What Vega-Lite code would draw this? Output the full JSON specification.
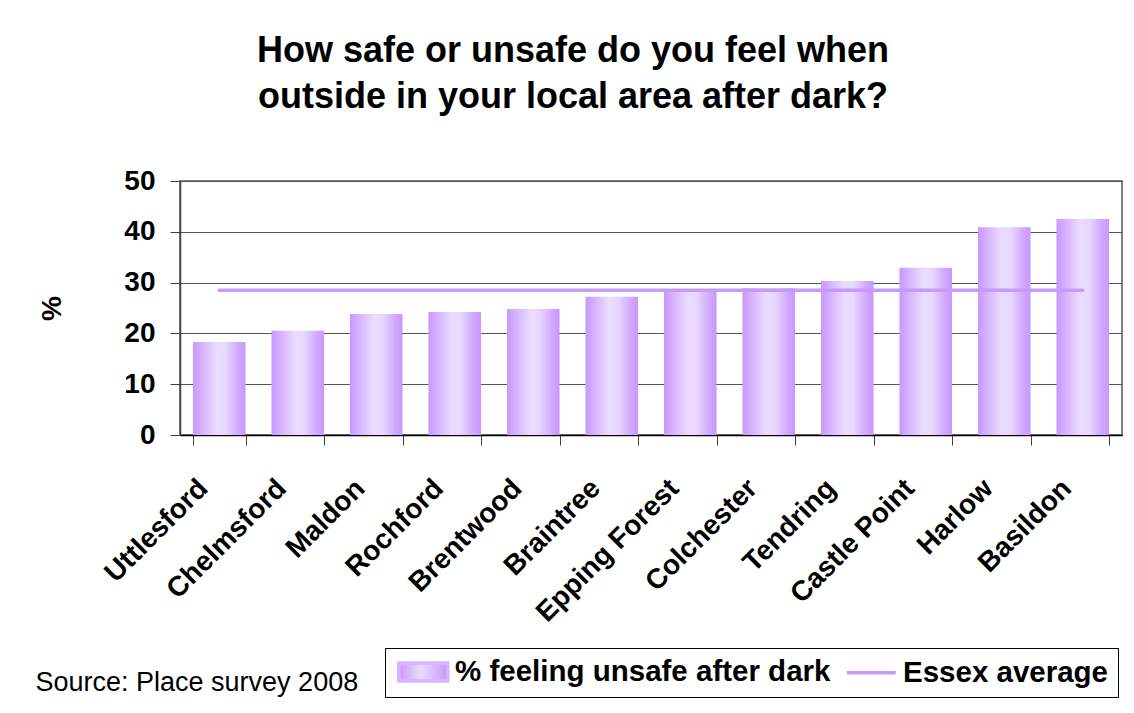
{
  "$schema": "https://vega.github.io/schema/vega-lite/v6.json",
  "autosize": {"type": "none"},
  "width": 942,
  "height": 254,
  "padding": {"left": 180, "top": 181, "right": 12, "bottom": 278},
  "background": "white",
  "config": {
    "font": "Liberation Sans",
    "view": {"stroke": "#808080", "strokeWidth": 2}
  },
  "title": {
    "text": ["How safe or unsafe do you feel when", "outside in your local area after dark?"],
    "fontSize": 36,
    "fontWeight": "bold",
    "font": "Liberation Sans",
    "color": "#000000",
    "anchor": "middle",
    "frame": "group",
    "dx": -78,
    "offset": 51,
    "lineHeight": 46
  },
  "data": {
    "values": [
      {"district": "Uttlesford", "unsafe": 18.3, "avg": 28.5},
      {"district": "Chelmsford", "unsafe": 20.5, "avg": 28.5},
      {"district": "Maldon", "unsafe": 23.8, "avg": 28.5},
      {"district": "Rochford", "unsafe": 24.2, "avg": 28.5},
      {"district": "Brentwood", "unsafe": 24.8, "avg": 28.5},
      {"district": "Braintree", "unsafe": 27.2, "avg": 28.5},
      {"district": "Epping Forest", "unsafe": 28.4, "avg": 28.5},
      {"district": "Colchester", "unsafe": 28.9, "avg": 28.5},
      {"district": "Tendring", "unsafe": 30.3, "avg": 28.5},
      {"district": "Castle Point", "unsafe": 32.9, "avg": 28.5},
      {"district": "Harlow", "unsafe": 40.9, "avg": 28.5},
      {"district": "Basildon", "unsafe": 42.5, "avg": 28.5}
    ]
  },
  "encoding": {
    "x": {
      "field": "district",
      "type": "nominal",
      "sort": null,
      "scale": {"paddingInner": 0.33, "paddingOuter": 0.165},
      "axis": {
        "title": "Source: Place survey 2008",
        "titleFont": "Liberation Sans",
        "titleFontSize": 27,
        "titleFontWeight": "normal",
        "titleColor": "#000000",
        "titleAnchor": "start",
        "titleAlign": "left",
        "titleBaseline": "middle",
        "titleX": -145,
        "titleY": 247,
        "labelAngle": -45,
        "labelAlign": "right",
        "labelBaseline": "top",
        "labelFontSize": 28,
        "labelFontWeight": "bold",
        "labelColor": "#000000",
        "labelPadding": 29,
        "labelOffset": -26,
        "labelLimit": 400,
        "tickBand": "extent",
        "tickSize": 10,
        "tickColor": "#404040",
        "domainColor": "#000000",
        "domainWidth": 1.5,
        "grid": false
      }
    }
  },
  "layer": [
    {
      "mark": {
        "type": "bar",
        "color": {
          "gradient": "linear",
          "x1": 0, "y1": 0, "x2": 1, "y2": 0,
          "stops": [
            {"offset": 0, "color": "#C897FF"},
            {"offset": 0.18, "color": "#D6B3FF"},
            {"offset": 0.45, "color": "#EBDCFF"},
            {"offset": 0.62, "color": "#E8D7FF"},
            {"offset": 0.85, "color": "#D2AAFF"},
            {"offset": 1, "color": "#C896FF"}
          ]
        }
      },
      "encoding": {
        "y": {
          "field": "unsafe",
          "type": "quantitative",
          "scale": {"domain": [0, 50], "nice": false},
          "axis": {
            "title": "%",
            "titleFontSize": 28,
            "titleFontWeight": "bold",
            "titleColor": "#000000",
            "titleAngle": -90,
            "titleX": -128,
            "titleY": 127,
            "titleAlign": "center",
            "titleBaseline": "middle",
            "values": [0, 10, 20, 30, 40, 50],
            "labelFontSize": 28,
            "labelFontWeight": "bold",
            "labelColor": "#000000",
            "labelPadding": 15,
            "tickSize": 10,
            "tickColor": "#404040",
            "domainColor": "#404040",
            "domainWidth": 1.5,
            "gridColor": "#555555",
            "gridWidth": 1.2
          }
        }
      }
    },
    {
      "mark": {"type": "line", "strokeWidth": 3.5, "strokeCap": "round"},
      "encoding": {
        "y": {"field": "avg", "type": "quantitative"},
        "color": {
          "datum": "Essex average",
          "type": "nominal",
          "scale": {
            "domain": ["% feeling unsafe after dark", "Essex average"],
            "range": ["#D6B3FF", "#C49CF8"]
          },
          "legend": {
            "title": null,
            "orient": "none",
            "legendX": 205,
            "legendY": 467,
            "direction": "horizontal",
            "strokeColor": "#000000",
            "fillColor": "#FFFFFF",
            "padding": 9,
            "labelFontSize": 29.5,
            "labelFontWeight": "bold",
            "labelColor": "#000000",
            "labelLimit": 600,
            "labelOffset": 17,
            "symbolOffset": 14.5,
            "columnPadding": 8,
            "symbolSize": 400,
            "symbolStrokeWidth": 3.5,
            "encode": {
              "symbols": {
                "update": {
                  "shape": [
                    {"test": "datum.value === '% feeling unsafe after dark'", "value": "M-2.45,-0.9H2.45V0.9H-2.45Z"},
                    {"value": "M-2.45,0H2.45"}
                  ],
                  "fill": [
                    {"test": "datum.value === '% feeling unsafe after dark'", "value": {
                      "gradient": "linear",
                      "x1": 0, "y1": 0, "x2": 1, "y2": 0,
                      "stops": [
                        {"offset": 0, "color": "#C897FF"},
                        {"offset": 0.45, "color": "#EBDCFF"},
                        {"offset": 1, "color": "#C896FF"}
                      ]
                    }},
                    {"value": "transparent"}
                  ],
                  "stroke": [
                    {"test": "datum.value === '% feeling unsafe after dark'", "value": "transparent"},
                    {"value": "#C49CF8"}
                  ],
                  "opacity": {"value": 1}
                }
              }
            }
          }
        }
      }
    }
  ]
}
